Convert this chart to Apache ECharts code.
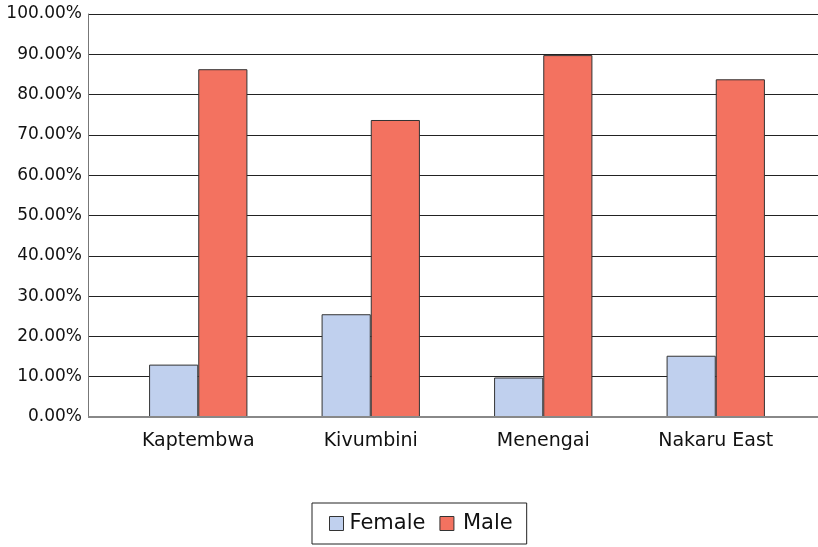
<!DOCTYPE html>
<html>
<head>
<meta charset="utf-8">
<script src="https://cdn.jsdelivr.net/npm/echarts@6/dist/echarts.min.js"></script>
<style>
  html, body { margin: 0; padding: 0; background: #fff; }
  #main { width: 818px; height: 547px; }
</style>
</head>
<body>
<div id="main"></div>
<script>
// data
const categories = ['Kaptembwa', 'Kivumbini', 'Menengai', 'Nakaru East'];
const female = [13.0, 25.5, 9.8, 15.2];
const male = [86.3, 73.7, 89.8, 83.8];
const yTicks = [0, 10, 20, 30, 40, 50, 60, 70, 80, 90, 100];

const chart = echarts.init(document.getElementById('main'));
const font = 'DejaVu Sans, Liberation Sans, sans-serif';

const option = {
    animation: false,
    textStyle: { fontFamily: font },
    grid: [
        // value axis + gridlines over the full width
        { left: 88, right: 0, top: 14, bottom: 130 },
        // the bars sit in a slightly narrower band
        { left: 112, right: 16, top: 14, bottom: 130 }
    ],
    legend: {
        top: 503,
        left: 312,
        data: [
            { name: 'Female', textStyle: { padding: [0, 0, 0, 1] } },
            { name: 'Male', textStyle: { padding: [0, 0, 0, 4] } }
        ],
        icon: 'rect',
        itemWidth: 14,
        itemHeight: 14,
        itemGap: 14,
        padding: [10, 14, 10, 17],
        borderColor: '#222',
        borderWidth: 1,
        borderRadius: 0,
        textStyle: { fontSize: 21, color: '#111', fontFamily: font },
        itemStyle: { borderColor: '#333', borderWidth: 1 }
    },
    xAxis: [
        {
            gridIndex: 0, type: 'value', min: 0, max: 1, show: false
        },
        {
            gridIndex: 1, type: 'category', data: categories,
            axisLine: { show: false },
            axisTick: { show: false },
            axisLabel: { fontSize: 19, color: '#111', margin: 15 }
        }
    ],
    yAxis: [
        {
            gridIndex: 0, type: 'value', min: 0, max: 100, interval: 10,
            axisLine: { show: true, lineStyle: { color: '#777', width: 1 } },
            axisTick: { show: false },
            axisLabel: {
                fontSize: 17, color: '#111', margin: 6,
                formatter: v => yTicks.includes(v) ? v.toFixed(2) + '%' : ''
            },
            splitLine: { show: true, lineStyle: { color: '#222', width: 1 } }
        },
        {
            gridIndex: 1, type: 'value', min: 0, max: 100, interval: 10, show: false
        }
    ],
    series: [
        {
            name: 'Female', type: 'bar', xAxisIndex: 1, yAxisIndex: 1,
            data: female,
            barGap: '0%', barCategoryGap: '43%',
            itemStyle: { color: '#c0d0ee', borderColor: '#333', borderWidth: 1 }
        },
        {
            name: 'Male', type: 'bar', xAxisIndex: 1, yAxisIndex: 1,
            data: male,
            itemStyle: { color: '#f37260', borderColor: '#333', borderWidth: 1 }
        },
        {
            // bottom axis line across the whole plot
            type: 'line', xAxisIndex: 0, yAxisIndex: 0,
            data: [[0, 0], [1, 0]], symbol: 'none', silent: true,
            lineStyle: { color: '#888', width: 2 }, z: 5
        }
    ]
};

chart.setOption(option);
</script>
</body>
</html>
